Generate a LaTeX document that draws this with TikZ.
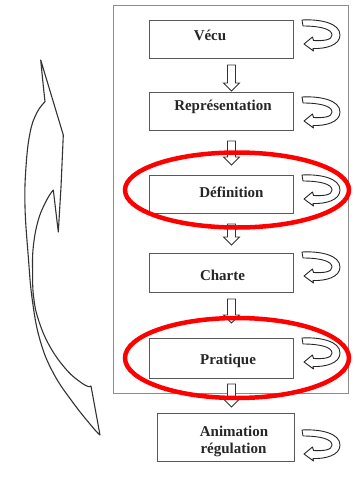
\documentclass[tikz,border=0pt]{standalone}
\usepackage{fontspec}
\setmainfont{Liberation Serif}
\usetikzlibrary{calc}
\newcommand\blockdown[4]{%
  \draw[blockarr] let \p1=($(#1.south)+(10,#3)$), \p2=($(#2.north)+(10,-#4)$) in
    (\x1-4pt,\y1) -- (\x1+4pt,\y1) -- (\x1+4pt,\y2+8pt) -- (\x1+8pt,\y2+8pt)
    -- (\x1,\y2) -- (\x1-8pt,\y2+8pt) -- (\x1-4pt,\y2+8pt) -- cycle;}
\newcommand\curvarr[2]{%
  \begin{scope}[shift={(#1,#2)}]
    \draw[loopar] (0,0) .. controls (18,-1) and (38,3) .. (38,15)
      .. controls (38,25) and (24,29) .. (11,28.5) -- (11.5,31) -- (2,24)
      -- (10.5,17) -- (11.5,20.5) .. controls (22,21) and (30,20) .. (30,15)
      .. controls (30,9) and (18,6) .. (1,6) -- cycle;
  \end{scope}}
\begin{document}
\begin{tikzpicture}[x=1pt,y=-1pt,
  box/.style={draw=black!65, line width=0.9pt, fill=white, inner sep=0pt, anchor=north west},
  lbl/.style={font=\fontsize{15}{18}\selectfont\bfseries, text=black!85, inner sep=0pt, anchor=base},
  blockarr/.style={draw=black!80, line width=0.8pt, fill=white, line join=miter},
  loopar/.style={draw=black!85, line width=0.9pt, fill=white, line join=round},
  bigarr/.style={draw=black!80, line width=1.1pt, fill=white, line join=round},
  redring/.style={draw=red, line width=4.5pt},
  frame/.style={draw=black!45, line width=1pt}]
\useasboundingbox (0,0) rectangle (354,485);
\fill[white] (0,0) rectangle (354,485);
% frame
\draw[frame] (113,5) rectangle (348,393);
% left big curved arrow
\draw[bigarr] (40.7,60) -- (63.3,135) -- (61,187) -- (58.3,232) -- (53.3,190)
  -- plot[smooth, tension=0.7] coordinates {(53.3,190) (46.7,200) (38.3,220) (33.3,246.7) (32.6,273) (33.6,296.7) (38.5,320) (50,346.7) (66.7,370) (81.7,383) (89.3,386.7)}
  -- (91,386) -- (100,435)
  -- plot[smooth, tension=0.7] coordinates {(100,435) (93.3,428) (73.3,403) (53.3,373) (40,340) (32.3,300) (28.3,256.7) (25,206.7) (26,166.7) (30,133) (36.7,113) (45,101.7)}
  -- (43,83) -- cycle;
% boxes
\node[box, minimum width=144pt, minimum height=38pt] (vecu) at (149,20) {};
\node[box, minimum width=144pt, minimum height=38pt] (rep) at (149,92) {};
\node[box, minimum width=144pt, minimum height=38pt] (def) at (149,175) {};
\node[box, minimum width=144pt, minimum height=39pt] (charte) at (149,253) {};
\node[box, minimum width=144pt, minimum height=40pt] (prat) at (149,338) {};
\node[box, minimum width=137pt, minimum height=48pt] (anim) at (157,413) {};
% labels
\node[lbl] (tvecu) at (210,40) {Vécu};
\node[lbl] (trep) at (223,110) {Représentation};
\node[lbl] (tdef) at (231.5,197) {Définition};
\node[lbl] (tcharte) at (222.5,280) {Charte};
\node[lbl] (tprat) at (228,364) {Pratique};
\node[lbl] (tanim1) at (234,436) {Animation};
\node[lbl] (tanim2) at (233.5,453) {régulation};
% down block arrows
\blockdown{vecu}{rep}{6}{1}
\blockdown{rep}{def}{10}{10}
\blockdown{def}{charte}{10}{8}
\blockdown{charte}{prat}{6}{15}
\blockdown{prat}{anim}{5}{6}
% loop arrows
\curvarr{302}{20}
\curvarr{302}{97}
\curvarr{302}{175}
\curvarr{302}{252}
\curvarr{302}{338}
\curvarr{302}{430}
% red ellipses
\draw[redring] (237,190) ellipse [x radius=112, y radius=37.5];
\draw[redring] (237,358) ellipse [x radius=112, y radius=40];
\end{tikzpicture}
\end{document}
